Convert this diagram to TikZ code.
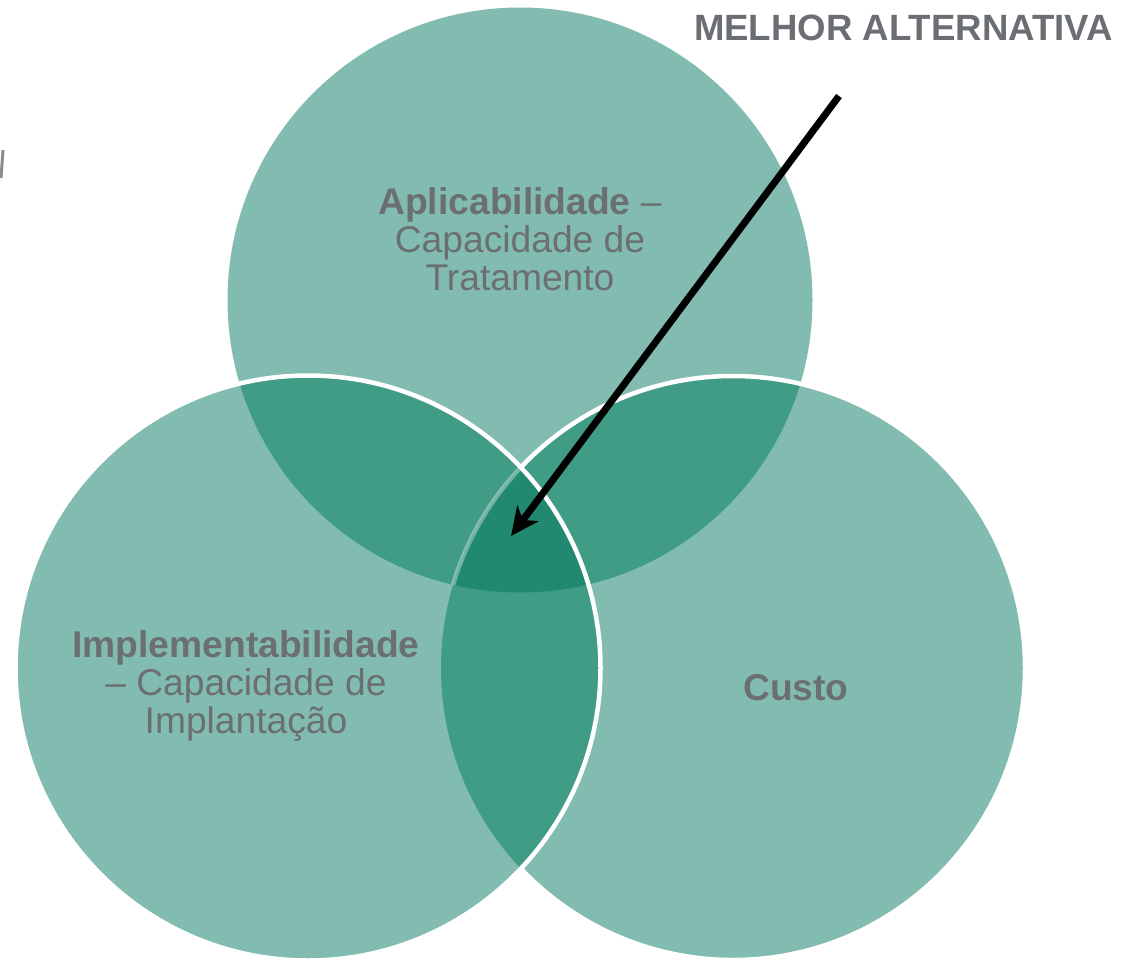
\documentclass[tikz,border=0pt]{standalone}
\usepackage{fontspec}
\setmainfont{Liberation Sans}
\usetikzlibrary{arrows.meta}
\definecolor{cLight}{HTML}{82BCB0}
\definecolor{cMid}{HTML}{419C86}
\definecolor{cDark}{HTML}{21896F}
\definecolor{cText}{HTML}{6B6F74}
\def\topc{(520,300) circle[radius=292.5]}
\def\leftc{(308,668) circle[radius=292.5]}
\def\rightc{(733,668) circle[radius=292]}
\tikzset{
  label text/.style={text=cText, align=center, font=\fontsize{37.2}{38}\selectfont, inner sep=0pt},
  rim/.style={draw=white, line width=4.5pt},
  pointer/.style={draw=black, line width=7pt, -{Stealth[length=28pt,width=26pt,inset=8pt]}}
}
\begin{document}
\begin{tikzpicture}[x=1pt,y=-1pt]
\useasboundingbox (0,0) rectangle (1122,960);
% top circle
\fill[cLight] \topc;
% right circle
\fill[cLight] \rightc;
\begin{scope}
  \clip \topc;
  \fill[cMid] \rightc;
\end{scope}
\draw[rim] \rightc;
% left circle
\fill[cLight] \leftc;
\begin{scope}
  \clip \leftc;
  \fill[cMid] \topc;
  \fill[cMid] \rightc;
  \clip \topc;
  \fill[cDark] \rightc;
\end{scope}
\begin{scope}
  \clip \leftc;
  \clip \topc;
  \draw[rim, draw opacity=0.35] \rightc;
\end{scope}
\draw[rim] \leftc;
% small fragment at left edge
\draw[cText!80, line width=3pt] (3,150) -- (1,178);
% labels
\node[label text] (apl) at (520,239) {\textbf{Aplicabilidade} –\\Capacidade de\\Tratamento};
\node[label text] (imp) at (246,686) {\textbf{Implementabilidade}\\– Capacidade de\\Implantação};
\node[label text] (custo) at (796,688) {\textbf{Custo}};
\node[label text, font=\bfseries\fontsize{36.6}{38}\selectfont] (melhor) at (903.5,28) {MELHOR ALTERNATIVA};
% arrow
\coordinate (astart) at (839,96);
\coordinate (best) at (511,536);
\draw[pointer] (astart) -- (best);
\end{tikzpicture}
\end{document}
